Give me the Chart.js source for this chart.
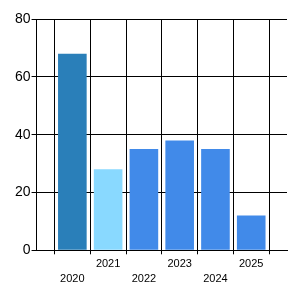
<!DOCTYPE html>
<html>
<head>
<meta charset="utf-8">
<script src="https://cdn.jsdelivr.net/npm/chart.js@4"></script>
<style>html,body{margin:0;padding:0;background:#fff;}#wrap{width:300px;height:300px;}</style>
</head>
<body>
<div id="wrap"><canvas id="c" width="300" height="300"></canvas></div>
<script>
const years = ['2020', '2021', '2022', '2023', '2024', '2025'];
const values = [68, 28, 35, 38, 35, 12];
const barColors = ['#2a7fb9', '#89d9ff', '#418ae9', '#418ae9', '#418ae9', '#418ae9'];
const yTicks = [0, 20, 40, 60, 80];

const labels = [''].concat(years, ['']);
const data = [null].concat(values, [null]);
const colors = ['#000'].concat(barColors, ['#000']);

new Chart(document.getElementById('c'), {
  type: 'bar',
  data: {
    labels: labels,
    datasets: [{
      data: data,
      backgroundColor: colors,
      borderWidth: 0,
      categoryPercentage: 1,
      barPercentage: 0.8
    }]
  },
  options: {
    responsive: false,
    animation: false,
    layout: { padding: { left: 14, right: 13, top: 19, bottom: 12 } },
    plugins: { legend: { display: false }, tooltip: { enabled: false } },
    scales: {
      x: {
        offset: false,
        grid: { color: '#000', lineWidth: 1, tickLength: 4, tickColor: '#000' },
        border: { color: '#000', width: 1 },
        ticks: {
          autoSkip: false, maxRotation: 0, minRotation: 0, padding: 2,
          color: '#000',
          font: { family: 'Liberation Sans, Arial, sans-serif', size: 11, lineHeight: 1.35 },
          callback: function (v, i) {
            const t = labels[i];
            if (t === '') return '';
            return (i % 2 === 1) ? ['', t] : [t, ''];
          }
        }
      },
      y: {
        min: yTicks[0],
        max: yTicks[yTicks.length - 1],
        afterBuildTicks: function (s) { s.ticks = yTicks.map(v => ({ value: v })); },
        grid: { color: '#000', lineWidth: 1, tickLength: 5, tickColor: '#000' },
        border: { color: '#000', width: 1 },
        ticks: {
          padding: 1, color: '#000',
          font: { family: 'Liberation Sans, Arial, sans-serif', size: 14 }
        }
      }
    }
  }
});
</script>
</body>
</html>
